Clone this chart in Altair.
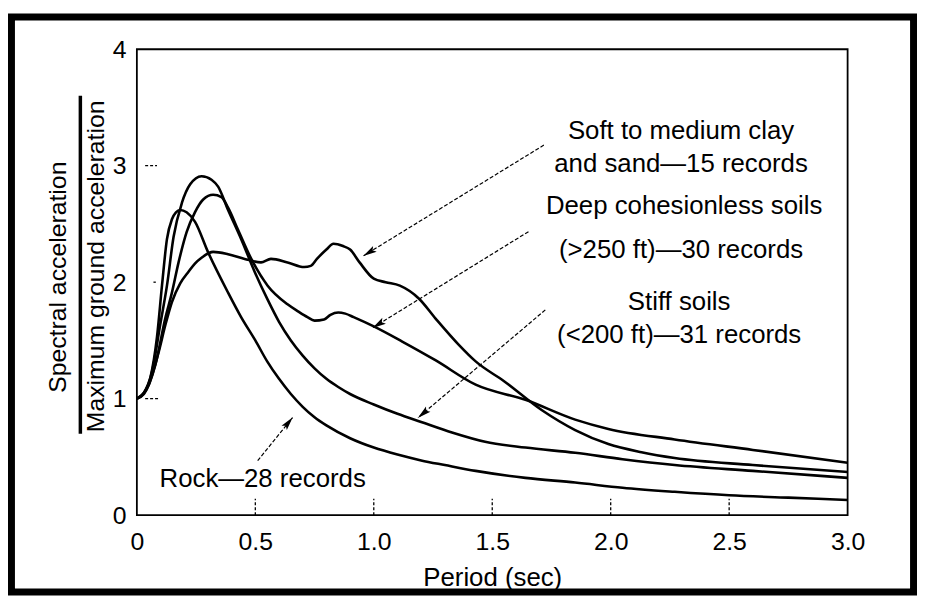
import math
import altair as alt
import pandas as pd

# ---------------- data ----------------
period_rock = [0, 0.03, 0.057, 0.085, 0.106, 0.127, 0.148, 0.165, 0.183, 0.21, 0.245, 0.30, 0.385, 0.44,
               0.50, 0.55, 0.60, 0.65, 0.70, 0.75, 0.80, 0.90, 1.0, 1.1, 1.2, 1.3, 1.43,
               1.64, 1.85, 2.05, 2.27, 2.5, 2.75, 3.0]
sa_rock = [1.0, 1.05, 1.18, 1.53, 1.97, 2.37, 2.54, 2.60, 2.62, 2.60, 2.52, 2.26, 1.91, 1.70,
           1.50, 1.32, 1.17, 1.04, 0.93, 0.84, 0.77, 0.66, 0.58, 0.52, 0.47, 0.43, 0.38,
           0.32, 0.28, 0.235, 0.20, 0.17, 0.15, 0.13]

period_stiff = [0, 0.03, 0.064, 0.099, 0.127, 0.155, 0.19, 0.225, 0.273, 0.315, 0.343, 0.385, 0.44,
                0.497, 0.552, 0.60, 0.65, 0.70, 0.75, 0.80, 0.85, 0.90, 1.0, 1.1, 1.2, 1.33, 1.47,
                1.64, 1.85, 2.05, 2.27, 2.6, 3.0]
sa_stiff = [1.0, 1.05, 1.23, 1.64, 1.97, 2.39, 2.68, 2.84, 2.91, 2.88, 2.82, 2.62, 2.37,
            2.09, 1.85, 1.66, 1.50, 1.37, 1.26, 1.17, 1.10, 1.04, 0.95, 0.87, 0.80, 0.71, 0.63,
            0.58, 0.535, 0.48, 0.43, 0.38, 0.32]

period_deep = [0, 0.03, 0.078, 0.12, 0.148, 0.176, 0.21, 0.245, 0.28, 0.322, 0.357, 0.385, 0.427,
               0.483, 0.552, 0.636, 0.68, 0.72, 0.75, 0.79, 0.817, 0.85, 0.88, 0.915, 1.0, 1.12,
               1.26, 1.43, 1.64, 1.85, 1.99, 2.27, 2.6, 3.0]
sa_deep = [1.0, 1.04, 1.29, 1.69, 1.91, 2.17, 2.43, 2.60, 2.71, 2.75, 2.73, 2.64, 2.45,
           2.20, 1.97, 1.81, 1.75, 1.70, 1.67, 1.68, 1.72, 1.74, 1.73, 1.70, 1.62, 1.49,
           1.33, 1.12, 0.99, 0.82, 0.74, 0.65, 0.56, 0.45]

period_soft = [0, 0.05, 0.092, 0.12, 0.148, 0.183, 0.218, 0.245, 0.273, 0.322, 0.385, 0.455, 0.524,
               0.566, 0.636, 0.706, 0.734, 0.76, 0.80, 0.83, 0.87, 0.90, 0.94, 1.0, 1.05, 1.11,
               1.19, 1.26, 1.36, 1.43, 1.55, 1.71, 1.85, 1.99, 2.13, 2.27, 2.6, 3.0]
sa_soft = [1.0, 1.12, 1.40, 1.63, 1.83, 1.99, 2.09, 2.16, 2.21, 2.26, 2.24, 2.20, 2.17,
           2.20, 2.17, 2.13, 2.14, 2.20, 2.28, 2.33, 2.31, 2.28, 2.17, 2.03, 2.00, 1.97,
           1.86, 1.69, 1.46, 1.32, 1.15, 0.90, 0.73, 0.61, 0.54, 0.49, 0.43, 0.37]

x_ticks = [0, 0.5, 1.0, 1.5, 2.0, 2.5, 3.0]
y_ticks = [0, 1, 2, 3, 4]
inner_x_ticks = [0.5, 1.0, 1.5, 2.0, 2.5]
inner_y_ticks = [1, 2, 3]

label_text = ["Soft to medium clay", "and sand\u201415 records", "Deep cohesionless soils",
              "(>250 ft)\u201430 records", "Stiff soils", "(<200 ft)\u201431 records",
              "Rock\u201428 records"]
label_x = [2.297, 2.297, 2.31, 2.297, 2.289, 2.289, 0.531]
label_y = [3.30, 3.01, 2.655, 2.272, 1.83, 1.549, 0.306]

arrow_start_x = [1.718, 1.653, 1.724, 0.510]
arrow_start_y = [3.177, 2.434, 1.762, 0.468]
arrow_tip_x = [0.957, 0.996, 1.187, 0.657]
arrow_tip_y = [2.227, 1.609, 0.837, 0.837]

# ---------------- layout ----------------
W, H = 717, 470
PAD_L, PAD_T = 130, 39
FONT = "Liberation Sans"

rows = []
for name, px, py in [("Rock", period_rock, sa_rock), ("Stiff", period_stiff, sa_stiff),
                     ("Deep", period_deep, sa_deep), ("Soft", period_soft, sa_soft)]:
    for t, v in zip(px, py):
        rows.append({"T": t, "SA": v, "soil": name})
curves = pd.DataFrame(rows)

x_scale = alt.Scale(domain=[0, 3], nice=False, zero=False)
y_scale = alt.Scale(domain=[0, 4], nice=False, zero=False)

x_axis = alt.Axis(values=x_ticks, labelExpr="datum.value == 0 ? '0' : format(datum.value, '.1f')",
                  title="Period (sec)", titleFont=FONT, titleFontSize=26, titleFontWeight="normal",
                  titleColor="black", titlePadding=10, labelFont=FONT, labelFontSize=25,
                  labelColor="black", labelPadding=15, tickSize=0, domain=False, grid=False,
                  labelFlush=False, labelOverlap=False)
y_axis = alt.Axis(values=y_ticks, format="d", title=None, labelFont=FONT, labelFontSize=25,
                  labelColor="black", labelPadding=11, tickSize=0, domain=False, grid=False,
                  labelFlush=False, labelOverlap=False)

lines = alt.Chart(curves).mark_line(color="black", strokeWidth=2.6, interpolate="monotone").encode(
    x=alt.X("T:Q", scale=x_scale, axis=x_axis),
    y=alt.Y("SA:Q", scale=y_scale, axis=y_axis),
    detail="soil:N",
)

# dashed tick marks inside the frame
xt = pd.DataFrame({"x": inner_x_ticks, "y0": [0] * len(inner_x_ticks), "y1": [0.14] * len(inner_x_ticks)})
xtick_marks = alt.Chart(xt).mark_rule(color="black", strokeWidth=1.3, strokeDash=[3, 2]).encode(
    x=alt.X("x:Q", scale=x_scale), y=alt.Y("y0:Q", scale=y_scale), y2="y1:Q")
yt = pd.DataFrame({"y": inner_y_ticks, "x0": [0.035, 0.07, 0.035], "x1": [0.09, 0.08, 0.085]})
ytick_marks = alt.Chart(yt).mark_rule(color="black", strokeWidth=1.3, strokeDash=[3, 2]).encode(
    y=alt.Y("y:Q", scale=y_scale), x=alt.X("x0:Q", scale=x_scale), x2="x1:Q")

# annotations
labels = pd.DataFrame({"x": label_x, "y": label_y, "text": label_text})
label_marks = alt.Chart(labels).mark_text(font=FONT, fontSize=26, color="black", align="center",
                                          baseline="middle").encode(
    x=alt.X("x:Q", scale=x_scale), y=alt.Y("y:Q", scale=y_scale), text="text:N")

arrows = pd.DataFrame({"x": arrow_start_x, "y": arrow_start_y, "x2": arrow_tip_x, "y2": arrow_tip_y})
arrow_lines = alt.Chart(arrows).mark_rule(color="black", strokeWidth=1.2, strokeDash=[4, 2]).encode(
    x=alt.X("x:Q", scale=x_scale), y=alt.Y("y:Q", scale=y_scale), x2="x2:Q", y2="y2:Q")

px_T, px_V = W / 3.0, H / 4.0
heads = []
for sx, sy, tx, ty in zip(arrow_start_x, arrow_start_y, arrow_tip_x, arrow_tip_y):
    dx = (tx - sx) * px_T
    dy = -(ty - sy) * px_V
    L = math.hypot(dx, dy)
    ux, uy = dx / L, dy / L
    back = 6.5
    heads.append({"x": tx - ux * back / px_T, "y": ty + uy * back / px_V,
                  "angle": math.degrees(math.atan2(ux, -uy)) % 360})
heads = pd.DataFrame(heads)
head_marks = alt.Chart(heads).mark_point(shape="M0,-1L0.5,1L0,0.6L-0.5,1Z", filled=True, color="black",
                                         size=190, opacity=1).encode(
    x=alt.X("x:Q", scale=x_scale), y=alt.Y("y:Q", scale=y_scale), angle=alt.Angle("angle:Q", scale=None))

# y-axis title drawn as a fraction
one = pd.DataFrame({"k": [0]})
num = alt.Chart(one).mark_text(text="Spectral acceleration", font=FONT, fontSize=25, angle=270,
                               align="center", baseline="middle", color="black").encode(
    x=alt.value(-79), y=alt.value(230))
den = alt.Chart(one).mark_text(text="Maximum ground acceleration", font=FONT, fontSize=25, angle=270,
                               align="center", baseline="middle", color="black").encode(
    x=alt.value(-41), y=alt.value(219))
bar = alt.Chart(one).mark_rule(color="black", strokeWidth=3.5).encode(
    x=alt.value(-57), y=alt.value(47), y2=alt.value(388))

# scanned outer border
border = alt.Chart(one).mark_rect(filled=False, stroke="black", strokeWidth=7).encode(
    x=alt.value(-126.5), x2=alt.value(783.5), y=alt.value(-32.5), y2=alt.value(547.5))

chart = alt.layer(lines, xtick_marks, ytick_marks, arrow_lines, head_marks, label_marks,
                  num, den, bar, border).properties(
    width=W, height=H, autosize="none", background="white",
    padding={"left": PAD_L, "top": PAD_T, "right": 70, "bottom": 81},
).configure_view(stroke="black", strokeWidth=1.8)

chart.save("out.html", embed_options={"renderer": "svg", "actions": False})
